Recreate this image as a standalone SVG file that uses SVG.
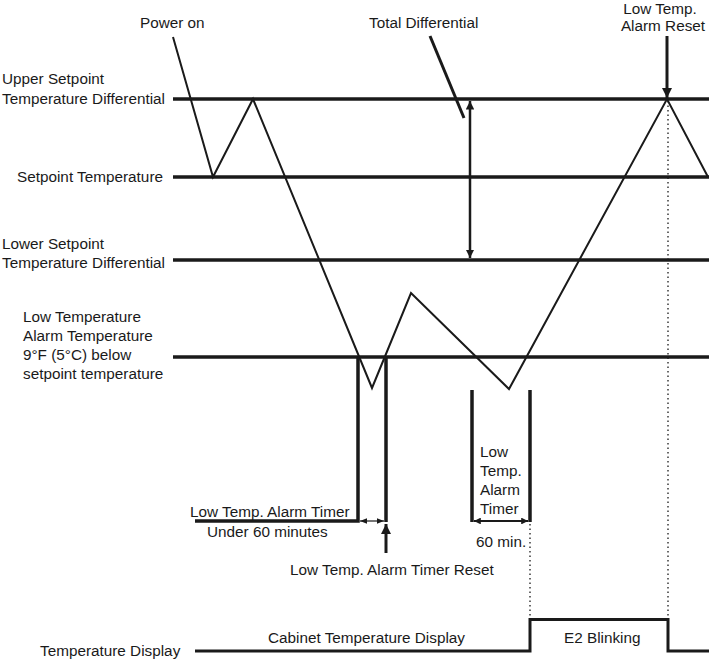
<svg xmlns="http://www.w3.org/2000/svg" width="709" height="659" viewBox="0 0 709 659">
<style>
text{font-family:"Liberation Sans",Arial,sans-serif;font-size:15.3px;fill:#1a1a1a}
.lvl{stroke:#1a1a1a;stroke-width:3.5;fill:none}
.curve{stroke:#1a1a1a;stroke-width:2;fill:none;stroke-linejoin:miter}
.thick{stroke:#1a1a1a;stroke-width:3.5;fill:none}
.arr{stroke:#1a1a1a;stroke-width:2.5;fill:none}
.thin{stroke:#1a1a1a;stroke-width:1.2;fill:none}
.dot{stroke:#1a1a1a;stroke-width:1.3;fill:none;stroke-dasharray:1.5 3}
</style>
<defs>
<marker id="ah" viewBox="0 0 10 10" refX="10" refY="5" markerWidth="3.4" markerHeight="3.4" orient="auto-start-reverse" markerUnits="strokeWidth"><path d="M0,0 L10,5 L0,10 z" fill="#1a1a1a"/></marker>
<marker id="ahs" viewBox="0 0 10 10" refX="10" refY="5" markerWidth="6" markerHeight="6" orient="auto-start-reverse" markerUnits="strokeWidth"><path d="M0,1 L10,5 L0,9 z" fill="#1a1a1a"/></marker>
</defs>
<rect width="709" height="659" fill="#ffffff"/>

<g id="upper-diff">
<line class="lvl" x1="173" y1="99" x2="709" y2="99"/>
<text x="2" y="84">Upper Setpoint</text>
<text x="2" y="104">Temperature Differential</text>
</g>
<g id="setpoint">
<line class="lvl" x1="173" y1="177" x2="709" y2="177"/>
<text x="17" y="182">Setpoint Temperature</text>
</g>
<g id="lower-diff">
<line class="lvl" x1="173" y1="260" x2="709" y2="260"/>
<text x="2" y="249">Lower Setpoint</text>
<text x="2" y="268">Temperature Differential</text>
</g>
<g id="low-alarm">
<line class="lvl" x1="173" y1="357" x2="709" y2="357"/>
<text x="23" y="322">Low Temperature</text>
<text x="23" y="341">Alarm Temperature</text>
<text x="23" y="360">9°F (5°C) below</text>
<text x="23" y="379">setpoint temperature</text>
</g>
<g id="temperature-curve">
<polyline class="curve" points="173,37 213,177 253,99 372,388 411,293 509,389 667,99 708,177"/>
<text x="140" y="28">Power on</text>
</g>
<g id="timer-under-60">
<path class="thick" d="M195,521 H358 V357"/>
<line class="thick" x1="386" y1="357" x2="386" y2="522"/>
<text x="190" y="517">Low Temp. Alarm Timer</text>
<text x="207" y="537">Under 60 minutes</text>
</g>
<g id="timer-60">
<line class="thick" x1="472" y1="390" x2="472" y2="522"/>
<line class="thick" x1="530" y1="390" x2="530" y2="522"/>
<text x="480" y="457">Low</text>
<text x="480" y="476">Temp.</text>
<text x="480" y="495">Alarm</text>
<text x="480" y="514">Timer</text>
<text x="476" y="547">60 min.</text>
</g>
<g id="total-diff-label">
<text x="369" y="28">Total Differential</text>
</g>
<g id="alarm-reset-label">
<text x="660" y="14" text-anchor="middle">Low Temp.</text>
<text x="663" y="31" text-anchor="middle">Alarm Reset</text>
</g>
<g id="timer-reset-label">
<text x="290" y="575">Low Temp. Alarm Timer Reset</text>
</g>
<g id="display">
<path class="thick" style="stroke-width:3" d="M195,651 H530 V619.5 H668 V651 H709"/>
<text x="40" y="656">Temperature Display</text>
<text x="268" y="643">Cabinet Temperature Display</text>
<text x="564" y="643">E2 Blinking</text>
</g>

<g id="connectors">
<line class="arr" x1="470" y1="101" x2="470" y2="258" marker-start="url(#ah)" marker-end="url(#ah)"/>
<line class="thick" style="stroke-width:3" x1="430" y1="36" x2="464" y2="118"/>
<line class="thick" style="stroke-width:3" x1="667" y1="36" x2="667" y2="98" marker-end="url(#ah)"/>
<line class="thick" style="stroke-width:3" x1="386" y1="553" x2="386" y2="524" marker-end="url(#ah)"/>
<line class="thin" x1="360" y1="521" x2="384" y2="521" marker-start="url(#ahs)" marker-end="url(#ahs)"/>
<line class="arr" style="stroke-width:2" x1="474" y1="521" x2="528" y2="521" marker-start="url(#ah)" marker-end="url(#ah)"/>
<line class="dot" x1="530" y1="524" x2="530" y2="618"/>
<line class="dot" x1="668" y1="101" x2="668" y2="618"/>
</g>
</svg>
